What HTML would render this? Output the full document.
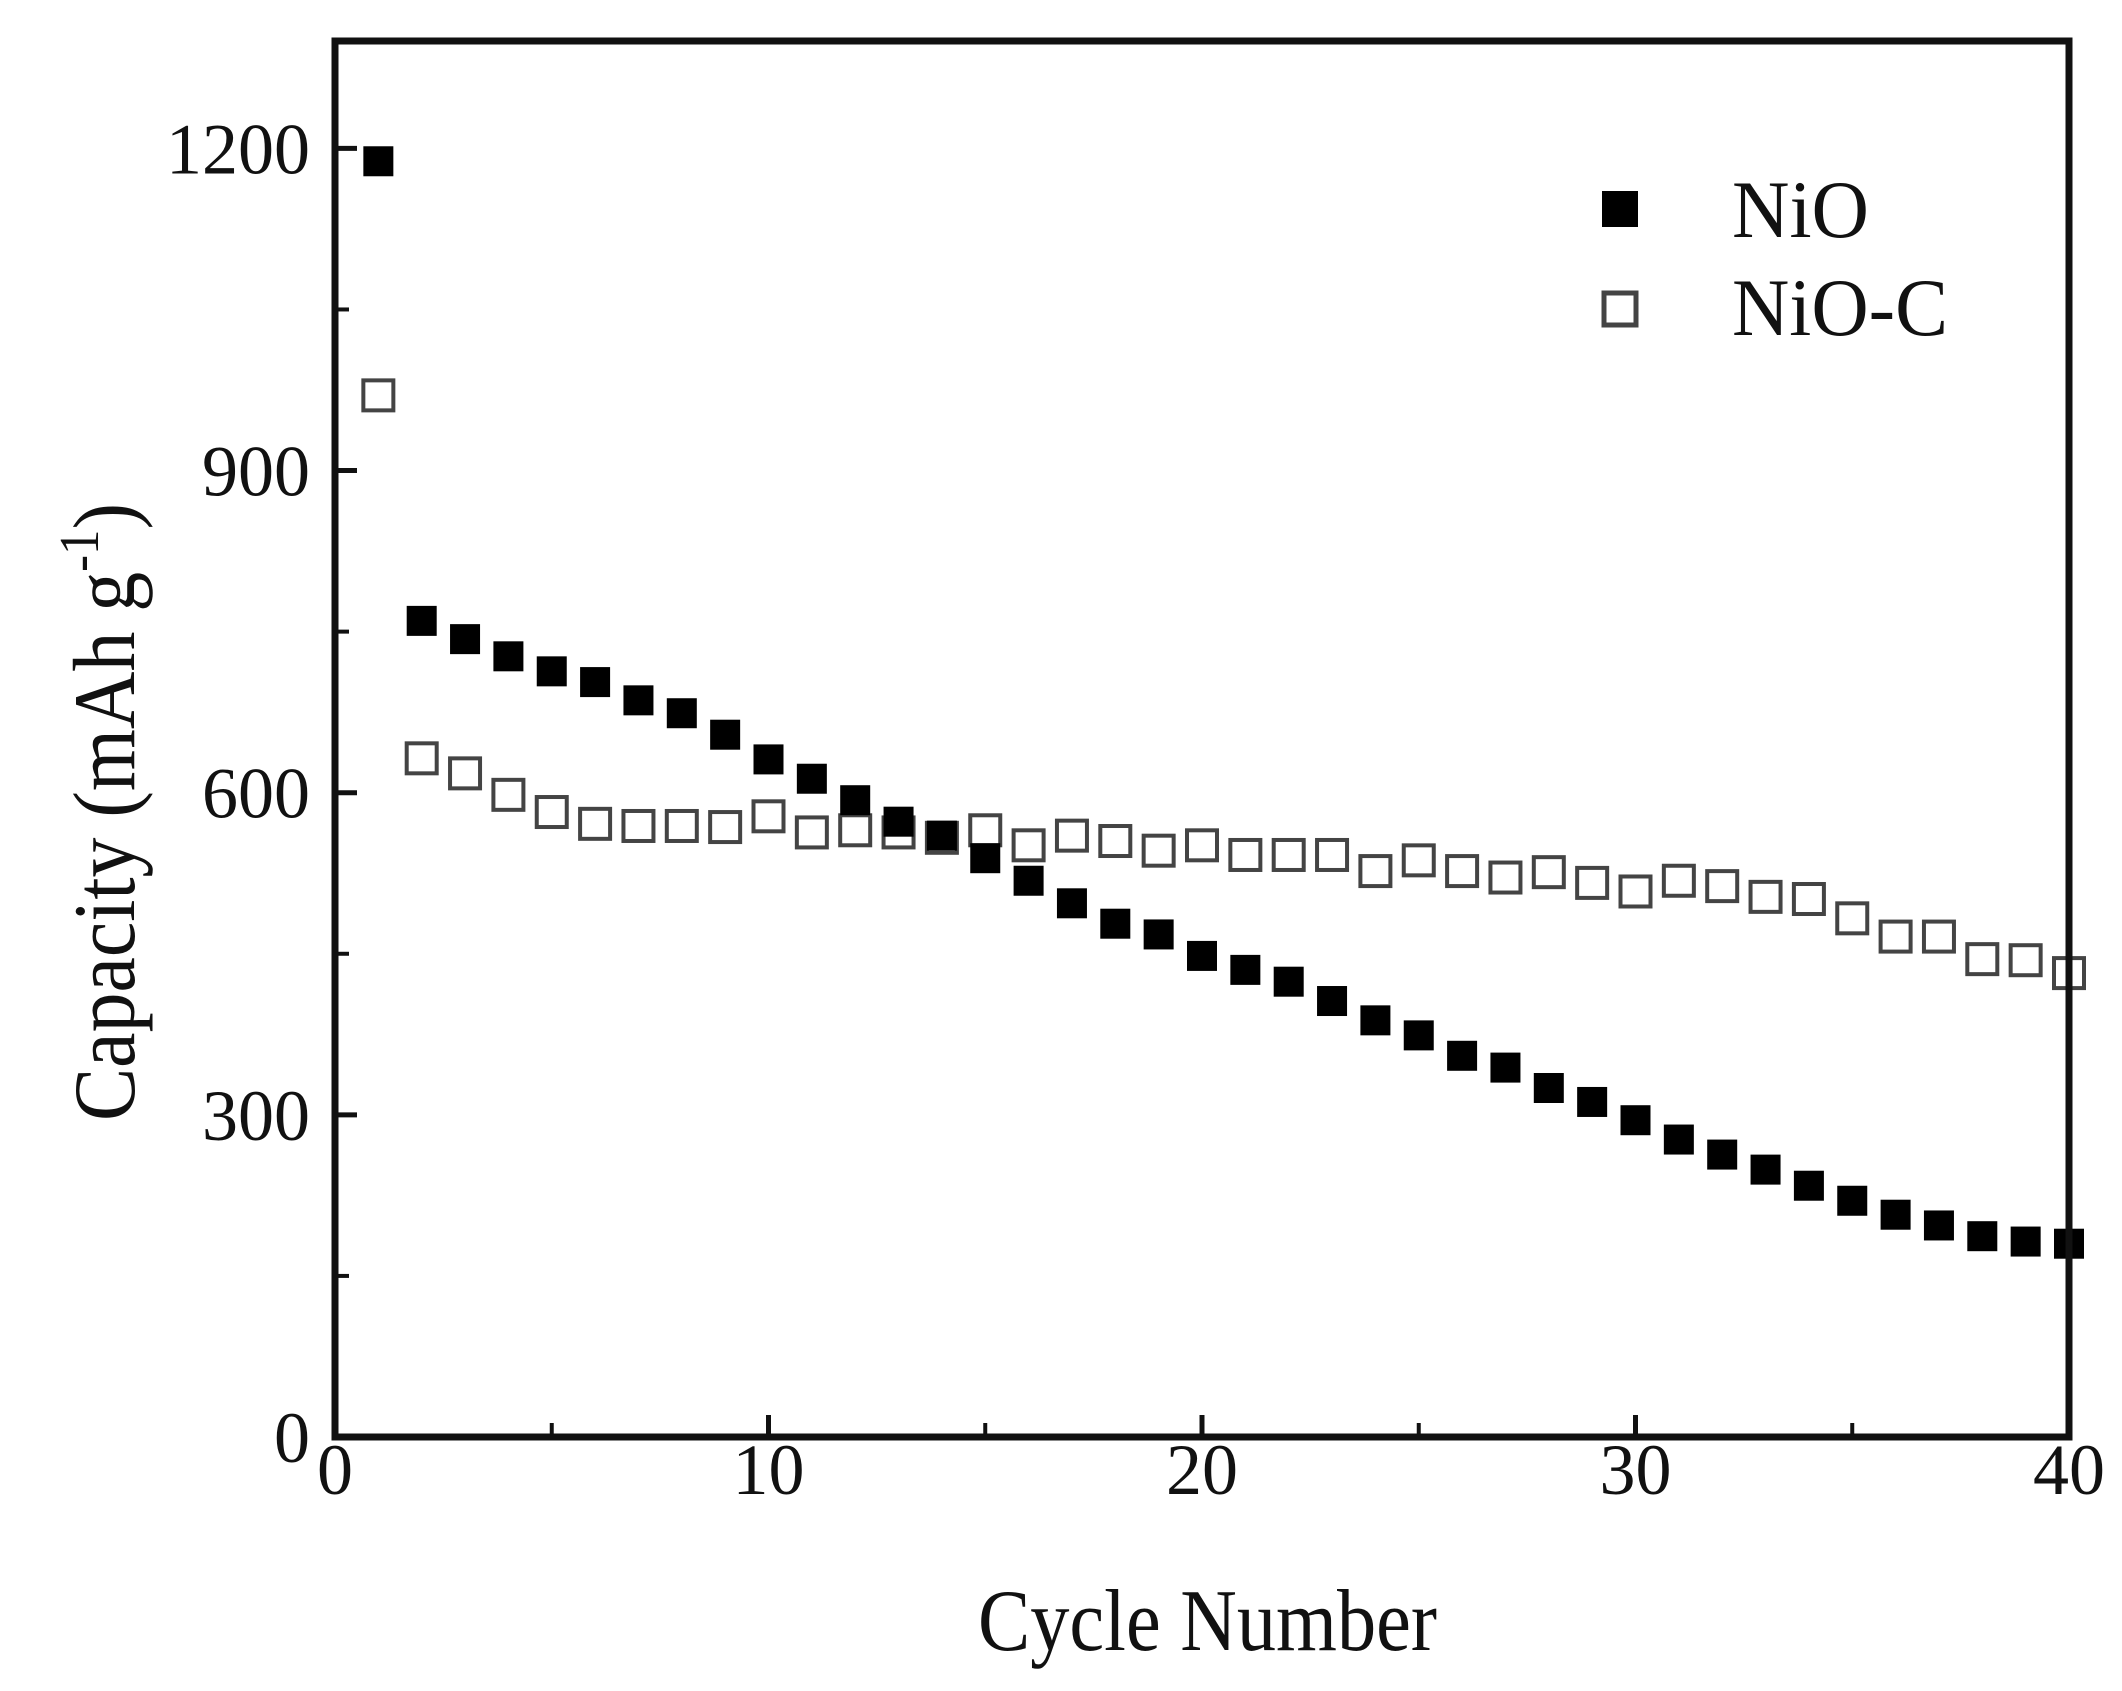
<!DOCTYPE html>
<html><head><meta charset="utf-8">
<style>
html,body{margin:0;padding:0;background:#fff;}
svg{display:block;}
text{font-family:"Liberation Serif",serif;fill:#111;}
</style></head>
<body>
<svg id="chart" width="2122" height="1691" viewBox="0 0 2122 1691" xmlns="http://www.w3.org/2000/svg">
<g id="axes"></g>
<g id="marks"></g>
<rect x="335" y="41" width="1734" height="1396" fill="none" stroke="#111" stroke-width="7"/>
<g>
  <rect x="1602" y="191" width="36" height="36" fill="#000"/>
  <text x="1732" y="237" font-size="82" textLength="137" lengthAdjust="spacingAndGlyphs">NiO</text>
  <rect x="1604" y="293" width="32" height="32" fill="#fff" stroke="#444" stroke-width="5"/>
  <text x="1732" y="335" font-size="82" textLength="216" lengthAdjust="spacingAndGlyphs">NiO-C</text>
</g>
<text x="978" y="1650" font-size="88" textLength="459" lengthAdjust="spacingAndGlyphs">Cycle Number</text>
<text transform="translate(134,812) rotate(-90)" font-size="88" x="-309" textLength="618" lengthAdjust="spacingAndGlyphs">Capacity (mAh g<tspan font-size="56" dy="-36">-1</tspan><tspan dy="36">)</tspan></text>
</svg>
<script>
const cycles = [1,2,3,4,5,6,7,8,9,10,11,12,13,14,15,16,17,18,19,20,21,22,23,24,25,26,27,28,29,30,31,32,33,34,35,36,37,38,39,40];
const nio = [1188,760,743,727,713,703,686,674,654,631,613,593,573,560,539,518,497,478,468,448,435,424,406,388,374,355,344,325,312,295,277,263,249,234,220,207,197,187,182,180];
const nioC = [970,632,618,598,582,571,569,569,568,578,563,565,563,558,565,551,560,555,546,551,542,542,542,527,537,527,521,526,516,508,518,513,503,501,483,466,466,445,444,432];
const xTicks = [0,10,20,30,40];
const yTicks = [0,300,600,900,1200];
const xMinor = [5,15,25,35];
const yMinor = [150,450,750,1050];

const X0=335,X1=2069,Y0=1437,Y1=41;
function xs(v){return X0+(v-0)/(40-0)*(X1-X0);}
function ys(v){return Y0-(v-0)/(1300-0)*(Y0-Y1);}
const NS='http://www.w3.org/2000/svg';
const axes=document.getElementById('axes');
const marks=document.getElementById('marks');
function mk(tag,attrs,parent){const e=document.createElementNS(NS,tag);for(const k in attrs)e.setAttribute(k,attrs[k]);parent.appendChild(e);return e;}

xTicks.forEach(t=>{
  const l=mk('line',{x1:xs(t),x2:xs(t),y1:Y0,y2:Y0-22,stroke:'#111','stroke-width':5},axes);
  
  
  const tx=mk('text',{x:xs(t),y:1494,'font-size':72,'text-anchor':'middle'},axes);
  tx.textContent=t;
  
  
});
xMinor.forEach(t=>{
  const l=mk('line',{x1:xs(t),x2:xs(t),y1:Y0,y2:Y0-14,stroke:'#111','stroke-width':4},axes);
  
  
});
yTicks.forEach(t=>{
  const l=mk('line',{x1:X0,x2:X0+22,y1:ys(t),y2:ys(t),stroke:'#111','stroke-width':5},axes);
  
  
  const tx=mk('text',{x:310,y:ys(t)+25,'font-size':72,'text-anchor':'end'},axes);
  tx.textContent=t;
  
  
});
yMinor.forEach(t=>{
  const l=mk('line',{x1:X0,x2:X0+14,y1:ys(t),y2:ys(t),stroke:'#111','stroke-width':4},axes);
  
  
});
const S=30;
cycles.forEach((c,i)=>{
  const r=mk('rect',{x:xs(c)-15,y:ys(nioC[i])-15,width:S,height:S,fill:'#fff',stroke:'#444','stroke-width':4},marks);
  
  
});
cycles.forEach((c,i)=>{
  const r=mk('rect',{x:xs(c)-15,y:ys(nio[i])-15,width:S,height:S,fill:'#000'},marks);
  
  
});
</script>
</body></html>
